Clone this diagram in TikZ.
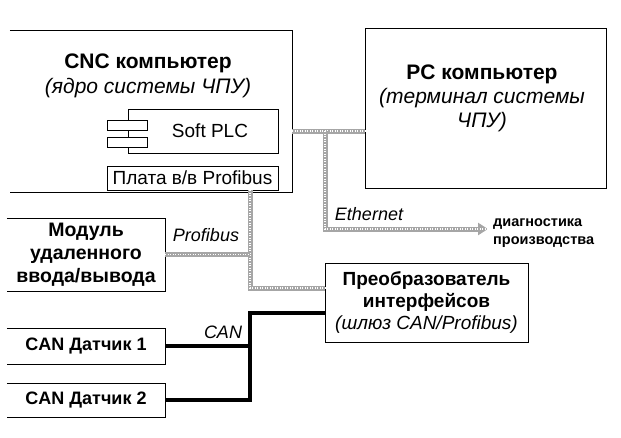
\documentclass[tikz,border=0pt]{standalone}
\usepackage{fontspec}
\setmainfont{Liberation Sans}
\usepackage{tikz}
\usetikzlibrary{calc,arrows.meta}

\tikzset{
    block/.style={rectangle, inner sep=0pt, align=center},
    tab/.style={draw, rectangle, fill=white, inner sep=0pt, minimum width=40, minimum height=10},
    bus/.style={draw=black!35, line width=5, postaction={draw=white, -, line width=1.2, dash pattern=on 1pt off 1.5pt}},
    canbus/.style={draw=black, line width=4.5},
    lbl/.style={font=\fontsize{18}{20}\selectfont\itshape},
}

\begin{document}
\begin{tikzpicture}[x=1pt,y=-1pt]
        \useasboundingbox (0,0) rectangle (621,437);

        % CNC computer
        \node[block, minimum width=282, minimum height=162] (cnc) at (151,111) {};
        \node[block, font=\fontsize{21}{25}\selectfont] (cnctxt) at (148,76) {\textbf{CNC компьютер}\\\textit{(ядро системы ЧПУ)}};
        \node[block, draw, fill=white, minimum width=150, minimum height=44, font=\fontsize{19}{21}\selectfont] (plc) at (203,131) {\hspace{14pt}Soft PLC};
        \node[tab] (tab1) at (127,125) {};
        \node[tab] (tab2) at (127,142) {};
        \node[block, draw, minimum width=171, minimum height=24, font=\fontsize{19}{21}\selectfont] (profi) at (192.5,178) {Плата в/в Profibus};

        % PC computer
        \node[block, draw, minimum width=241, minimum height=160] (pc) at (485.5,108) {};
        \node[block, font=\fontsize{21}{24}\selectfont] (pctxt) at (482,98) {\textbf{PC компьютер}\\\textit{(терминал системы}\\\textit{ЧПУ)}};

        % Left column
        \node[block, minimum width=158, minimum height=73, font=\fontsize{19.5}{23}\selectfont\bfseries] (module) at (86,254.5) {Модуль\\удаленного\\ввода/вывода};
        \node[block, minimum width=158, minimum height=36, font=\fontsize{18}{20}\selectfont\bfseries] (sens1) at (86,346) {CAN Датчик 1};
        \node[block, minimum width=158, minimum height=34, font=\fontsize{18}{20}\selectfont\bfseries] (sens2) at (86,400) {CAN Датчик 2};

        % boxes open on the left
        \foreach \n in {cnc,module,sens1,sens2}
            \draw (\n.north west) -- (\n.north east) -- (\n.south east) -- (\n.south west);

        % Gateway
        \node[block, draw, minimum width=203, minimum height=79, font=\fontsize{19}{22}\selectfont] (conv) at (426.5,302.5) {\textbf{Преобразователь}\\\textbf{интерфейсов}\\\textit{(шлюз CAN/Profibus)}};

        % Diagnostics
        \node[block, anchor=west, font=\fontsize{14.5}{18}\selectfont\bfseries, align=left] (diag) at (493,233) {диагностика\\производства};

        % Ethernet
        \coordinate (ethx) at (325,131);
        \coordinate (ethend) at (488,229);
        \draw[bus] (cnc.east |- ethx) -- (pc.west |- ethx);
        \draw[bus, -{Triangle[length=10, width=12]}] (ethx) |- (ethend);
        \node[lbl] (ethlbl) at (369,214) {Ethernet};

        % Profibus
        \coordinate (pbx) at (250,288);
        \draw[bus] (profi.south -| pbx) -- (pbx) -- (conv.west |- pbx);
        \draw[bus] (module.east) -- (module.east -| pbx);
        \node[lbl] (pblbl) at (206,235) {Profibus};

        % CAN
        \coordinate (canx) at (250,313);
        \draw[canbus] (conv.west |- canx) -- (canx) |- (sens2.east);
        \draw[canbus] (sens1.east) -- (sens1.east -| canx);
        \node[lbl] (canlbl) at (223,332) {CAN};
\end{tikzpicture}
\end{document}
